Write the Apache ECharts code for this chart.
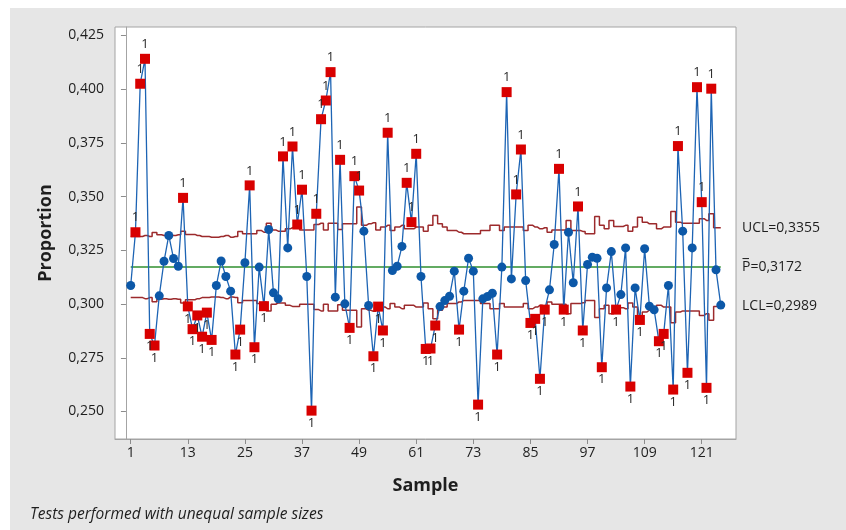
<!DOCTYPE html>
<html><head><meta charset="utf-8">
<script src="https://cdn.jsdelivr.net/npm/echarts@6/dist/echarts.min.js"></script>
<style>
html,body{margin:0;padding:0;background:#fff;}
#wrap{position:relative;width:846px;height:530px;overflow:hidden;background:#fff;}
#bg{position:absolute;left:10px;top:8px;right:0;bottom:0;background:#e6e6e6;}
#c{position:absolute;left:0;top:0;width:846px;height:530px;}
</style>
</head><body><div id="wrap"><div id="bg"></div><div id="c"></div></div>
<script>
// Sample proportions (samples 1..125)
const proportion = [
0.3086,0.3334,0.4025,0.4141,0.2861,0.2807,0.3038,0.3199,0.3319,0.3212,
0.3176,0.3494,0.2989,0.2883,0.2947,0.2848,0.2960,0.2833,0.3086,0.3200,
0.3128,0.3060,0.2765,0.2881,0.3192,0.3552,0.2799,0.3172,0.2990,0.3347,
0.3052,0.3024,0.3687,0.3261,0.3733,0.3370,0.3532,0.3128,0.2504,0.3420,
0.3860,0.3947,0.4079,0.3032,0.3671,0.3001,0.2889,0.3595,0.3528,0.3339,
0.2993,0.2757,0.2988,0.2877,0.3797,0.3156,0.3176,0.3268,0.3564,0.3381,
0.3699,0.3128,0.2791,0.2793,0.2900,0.2988,0.3016,0.3036,0.3153,0.2881,
0.3060,0.3213,0.3153,0.2532,0.3024,0.3035,0.3050,0.2765,0.3172,0.3986,
0.3117,0.3510,0.3719,0.3109,0.2912,0.2931,0.2652,0.2974,0.3066,0.3277,
0.3629,0.2974,0.3334,0.3099,0.3454,0.2877,0.3184,0.3218,0.3213,0.2706,
0.3075,0.3244,0.2974,0.3044,0.3261,0.2616,0.3075,0.2926,0.3257,0.2990,
0.2973,0.2827,0.2861,0.3086,0.2602,0.3735,0.3339,0.2680,0.3261,0.4009,
0.3474,0.2610,0.4002,0.3159,0.2995
];
// Upper control limit per sample
const ucl = [
0.3314,0.3314,0.3314,0.3319,0.3314,0.3333,0.3322,0.3319,0.3322,0.3319,
0.3322,0.3339,0.3324,0.3324,0.3319,0.3314,0.3314,0.3311,0.3311,0.3314,
0.3319,0.3311,0.3314,0.3338,0.3327,0.3327,0.3327,0.3342,0.3334,0.3376,
0.3345,0.3339,0.3339,0.3350,0.3355,0.3355,0.3345,0.3345,0.3345,0.3370,
0.3376,0.3345,0.3376,0.3376,0.3347,0.3373,0.3373,0.3373,0.3451,0.3366,
0.3373,0.3378,0.3345,0.3358,0.3366,0.3342,0.3358,0.3366,0.3350,0.3350,
0.3358,0.3358,0.3339,0.3366,0.3412,0.3373,0.3358,0.3342,0.3342,0.3334,
0.3327,0.3327,0.3327,0.3327,0.3342,0.3342,0.3366,0.3366,0.3342,0.3358,
0.3358,0.3358,0.3358,0.3342,0.3366,0.3358,0.3350,0.3355,0.3334,0.3345,
0.3345,0.3345,0.3389,0.3342,0.3342,0.3338,0.3327,0.3327,0.3407,0.3366,
0.3350,0.3389,0.3361,0.3361,0.3366,0.3339,0.3358,0.3404,0.3381,0.3373,
0.3373,0.3350,0.3358,0.3358,0.3431,0.3381,0.3376,0.3376,0.3376,0.3376,
0.3397,0.3389,0.3420,0.3355,0.3355
];
// Lower control limit per sample
const lcl = [
0.3030,0.3030,0.3030,0.3025,0.3030,0.3011,0.3022,0.3025,0.3022,0.3025,
0.3022,0.3005,0.3020,0.3020,0.3025,0.3030,0.3030,0.3033,0.3033,0.3030,
0.3025,0.3033,0.3030,0.3006,0.3017,0.3017,0.3017,0.3002,0.3010,0.2968,
0.2999,0.3005,0.3005,0.2994,0.2989,0.2989,0.2999,0.2999,0.2999,0.2974,
0.2968,0.2999,0.2968,0.2968,0.2997,0.2971,0.2971,0.2971,0.2893,0.2978,
0.2971,0.2966,0.2999,0.2986,0.2978,0.3002,0.2986,0.2978,0.2994,0.2994,
0.2986,0.2986,0.3005,0.2978,0.2932,0.2971,0.2986,0.3002,0.3002,0.3010,
0.3017,0.3017,0.3017,0.3017,0.3002,0.3002,0.2978,0.2978,0.3002,0.2986,
0.2986,0.2986,0.2986,0.3002,0.2978,0.2986,0.2994,0.2989,0.3010,0.2999,
0.2999,0.2999,0.2955,0.3002,0.3002,0.3006,0.3017,0.3017,0.2937,0.2978,
0.2994,0.2955,0.2983,0.2983,0.2978,0.3005,0.2986,0.2940,0.2963,0.2971,
0.2971,0.2994,0.2986,0.2986,0.2913,0.2963,0.2968,0.2968,0.2968,0.2968,
0.2947,0.2955,0.2924,0.2989,0.2989
];
const pBar = 0.3172;
const uclLast = 0.3355;
const lclLast = 0.2989;
const xTicks = [1,13,25,37,49,61,73,85,97,109,121];
const yTicks = [0.250,0.275,0.300,0.325,0.350,0.375,0.400,0.425];

const FONT = "'Open Sans', 'Noto Sans', sans-serif";
const TXT = '#1e1e1e';
const samples = proportion.map((_, i) => i + 1);

const pointData = samples.map((s, i) => {
  const v = proportion[i];
  const high = v > ucl[i], low = v < lcl[i];
  const out = high || low;
  return {
    value: [s, v],
    symbol: out ? 'rect' : 'circle',
    symbolSize: out ? 10 : 9,
    itemStyle: { color: out ? '#d80000' : '#0c58a8' },
    label: out ? { show: true, formatter: '1', position: high ? 'top' : 'bottom', distance: high ? 3 : 1,
      fontSize: 13, color: '#2a2a2a', fontFamily: FONT } : { show: false }
  };
});

const chart = echarts.init(document.getElementById('c'), null, { renderer: 'canvas' });
chart.setOption({
  animation: false,
  backgroundColor: 'transparent',
  grid: { left: 115, top: 27, right: 110, bottom: 91, containLabel: false, show: true,
    backgroundColor: '#ffffff', borderColor: '#a4a4a4', borderWidth: 1 },
  xAxis: {
    type: 'value', min: -2.3, max: 128.2,
    name: 'Sample', nameLocation: 'middle', nameGap: 38,
    nameTextStyle: { fontFamily: FONT, fontSize: 18, fontWeight: 'bold', color: TXT },
    axisLine: { show: true, lineStyle: { color: '#a4a4a4' } },
    axisTick: { show: true, length: 5, customValues: xTicks, lineStyle: { color: '#8c8c8c' } },
    axisLabel: { customValues: xTicks, fontFamily: FONT, fontSize: 14, color: TXT, margin: 7 },
    splitLine: { show: false }
  },
  yAxis: {
    type: 'value', min: 0.2372, max: 0.4289,
    name: 'Proportion', nameLocation: 'middle', nameGap: 60, nameRotate: 90,
    nameTextStyle: { fontFamily: FONT, fontSize: 18, fontWeight: 'bold', color: TXT },
    axisLine: { show: true, lineStyle: { color: '#a4a4a4' } },
    axisTick: { show: true, length: 5, customValues: yTicks, lineStyle: { color: '#8c8c8c' } },
    axisLabel: { customValues: yTicks, fontFamily: FONT, fontSize: 14, color: TXT, margin: 11,
      formatter: v => v.toFixed(3).replace('.', ',') },
    splitLine: { show: false }
  },
  series: [
    { type: 'line', name: 'UCL', step: 'middle', data: samples.map((s, i) => [s, ucl[i]]),
      symbol: 'none', lineStyle: { color: '#9c2a2c', width: 1.5 }, z: 2, silent: true },
    { type: 'line', name: 'LCL', step: 'middle', data: samples.map((s, i) => [s, lcl[i]]),
      symbol: 'none', lineStyle: { color: '#9c2a2c', width: 1.5 }, z: 2, silent: true },
    { type: 'line', name: 'P', data: [[samples[0], pBar], [samples[samples.length - 1], pBar]],
      symbol: 'none', lineStyle: { color: '#2f8f2f', width: 1.5 }, z: 2, silent: true },
    { type: 'line', name: 'Proportion', data: pointData,
      lineStyle: { color: '#1d64b4', width: 1.3 }, showAllSymbol: true, z: 5,
      labelLayout: { hideOverlap: false } }
  ]
});

const yU = chart.convertToPixel({ gridIndex: 0 }, [125, uclLast])[1];
const yP = chart.convertToPixel({ gridIndex: 0 }, [125, pBar])[1];
const yL = chart.convertToPixel({ gridIndex: 0 }, [125, lclLast])[1];
const lx = 742;
const tStyle = (txt, y) => ({ type: 'text', x: lx, y: y, style: { text: txt, fill: TXT,
  font: '14px ' + FONT, textVerticalAlign: 'middle', verticalAlign: 'middle' } });
chart.setOption({
  graphic: [
    tStyle('UCL=' + uclLast.toFixed(4).replace('.', ','), yU),
    tStyle('P=' + pBar.toFixed(4).replace('.', ','), yP),
    { type: 'line', shape: { x1: lx + 0.5, y1: yP - 8.5, x2: lx + 7, y2: yP - 8.5 }, style: { stroke: TXT, lineWidth: 1 } },
    tStyle('LCL=' + lclLast.toFixed(4).replace('.', ','), yL),
    { type: 'text', x: 30, y: 515, style: { text: 'Tests performed with unequal sample sizes', fill: TXT,
      font: 'italic 15.5px ' + FONT, verticalAlign: 'middle' } }
  ]
});
</script>
</body></html>
